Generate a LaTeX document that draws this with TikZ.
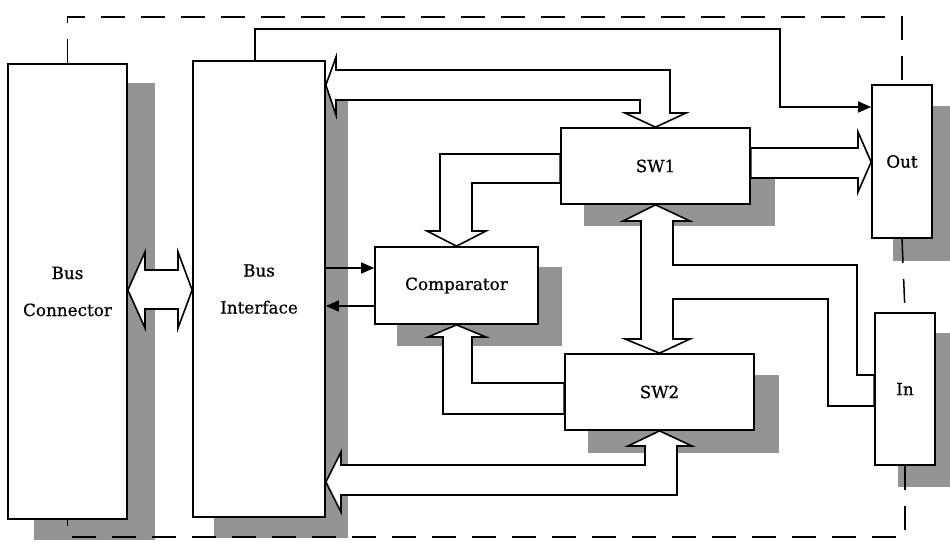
\documentclass[tikz,border=0pt]{standalone}
\usepackage{fontspec}
\setmainfont{DejaVu Serif}
\newfontfamily\lblfont{DejaVu Serif}[FakeBold=0.6]
\usetikzlibrary{calc,arrows.meta,backgrounds}
\begin{document}
\begin{tikzpicture}[x=1pt,y=-1pt,
  box/.style={draw,fill=white,line width=1.7pt,inner sep=0pt,
    font=\lblfont\fontsize{16.8}{37}\selectfont,align=center},
  shadowfill/.style={fill=black!42},
  bus/.style={draw,fill=white,line width=1.6pt,line join=miter},
  sig/.style={draw,line width=1.6pt,-{Triangle[length=13pt,width=11pt]}},
  border/.style={draw,line width=1.5pt,dash pattern=on 24pt off 16pt}]
\useasboundingbox (0,0) rectangle (950,544);
\clip (0,0) rectangle (950,544);

% blocks
\node[box,minimum width=119pt,minimum height=455pt] (BC) at (67.5,291.5) {Bus\\Connector};
\node[box,minimum width=132pt,minimum height=456pt] (BI) at (259,289) {Bus\\Interface};
\node[box,minimum width=189pt,minimum height=76pt] (SW1) at (655.5,166) {SW1};
\node[box,minimum width=163pt,minimum height=77pt] (CMP) at (456.5,285.5) {Comparator};
\node[box,minimum width=189pt,minimum height=76pt] (SW2) at (659.5,392) {SW2};
\node[box,minimum width=60pt,minimum height=153pt] (OUT) at (902,161.5) {Out};
\node[box,minimum width=60pt,minimum height=152pt] (IN) at (905,389) {In};

\begin{scope}[on background layer]
  % drop shadows
  \fill[shadowfill] ($(BC.south west)+(27,20)$) rectangle ($(BC.north east)+(27,20)$);
  \fill[shadowfill] ($(BI.south west)+(22,20)$) rectangle ($(BI.north east)+(22,20)$);
  \fill[shadowfill] ($(SW1.south west)+(24,21)$) rectangle ($(SW1.north east)+(24,21)$);
  \fill[shadowfill] ($(CMP.south west)+(23,21)$) rectangle ($(CMP.north east)+(23,21)$);
  \fill[shadowfill] ($(SW2.south west)+(24,22)$) rectangle ($(SW2.north east)+(24,22)$);
  \fill[shadowfill] ($(OUT.south west)+(22,22)$) rectangle ($(OUT.north east)+(22,22)$);
  \fill[shadowfill] ($(IN.south west)+(24,21)$) rectangle ($(IN.north east)+(24,21)$);

  % wide bus arrows
  % Bus Connector <-> Bus Interface
  \filldraw[bus] (BC.east |- 0,290) -- (145,252) -- (145,270) -- (178,270) -- (178,252)
    -- (BI.west |- 0,290) -- (178,328) -- (178,309) -- (145,309) -- (145,328) -- cycle;
  % Bus Interface <-> SW1
  \filldraw[bus] (BI.east |- 0,85) -- (336,57) -- (336,70) -- (670,70) -- (670,113)
    -- (686,113) -- (SW1.north) -- (625,113) -- (640,113) -- (640,100) -- (336,100)
    -- (336,115) -- cycle;
  % SW1 -> Comparator
  \filldraw[bus] (SW1.west |- 0,154) -- (440,154) -- (440,231) -- (427,231) -- (CMP.north)
    -- (486,231) -- (472,231) -- (472,183) -- (SW1.west |- 0,183) -- cycle;
  % SW2 -> Comparator
  \filldraw[bus] (SW2.west |- 0,414) -- (443,414) -- (443,337) -- (428,337) -- (CMP.south)
    -- (486,337) -- (472,337) -- (472,383) -- (SW2.west |- 0,383) -- cycle;
  % SW1 <-> SW2 <-> In
  \filldraw[bus] (SW1.south) -- (690,221) -- (673,221) -- (673,265) -- (857,265)
    -- (857,375) -- (IN.west |- 0,375) -- (IN.west |- 0,406) -- (828,406) -- (828,299)
    -- (673,299) -- (673,339) -- (690,339) -- (SW2.north) -- (625,339) -- (641,339)
    -- (641,221) -- (623,221) -- cycle;
  % SW2 <-> Bus Interface
  \filldraw[bus] (SW2.south) -- (692,446) -- (677,446) -- (677,495) -- (341,495)
    -- (341,512) -- (BI.east |- 0,482) -- (341,452) -- (341,465) -- (645,465)
    -- (645,446) -- (628,446) -- cycle;
  % SW1 -> Out
  \filldraw[bus] (SW1.east |- 0,148) -- (858,148) -- (858,132) -- (OUT.west |- 0,162)
    -- (858,192) -- (858,178) -- (SW1.east |- 0,178) -- cycle;
\end{scope}

% thin signal lines
\coordinate (t1) at (255,29);
\draw[sig] (BI.north -| t1) -- (t1) -- (780,29) -- (780,107) -- (OUT.west |- 0,107);
\draw[sig] (BI.east |- 0,268) -- (CMP.west |- 0,268);
\draw[sig] (CMP.west |- 0,306) -- (BI.east |- 0,306);

% dashed enclosure
\draw[border] (BC.north) -- (BC.north |- 0,17) -- (OUT.north |- 0,17) -- (OUT.north);
\draw[border] (OUT.south) -- (IN.north);
\draw[border] (IN.south) -- (IN.south |- 0,537) -- (BC.south |- 0,537) -- (BC.south);
\end{tikzpicture}
\end{document}
